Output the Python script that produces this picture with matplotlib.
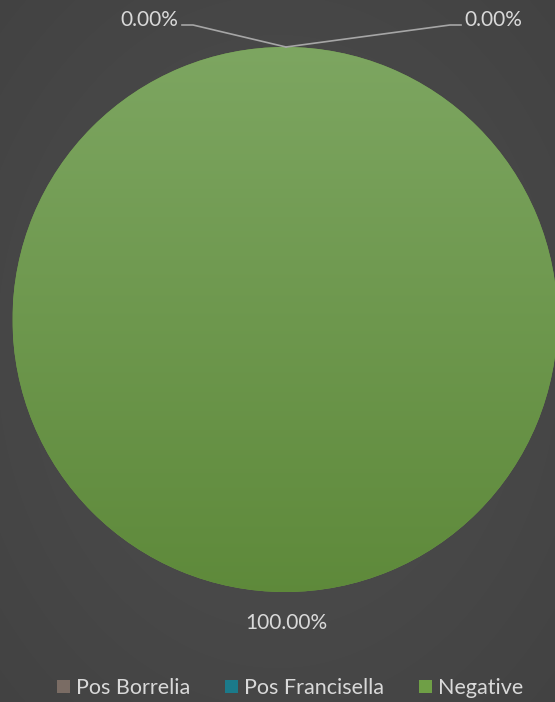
import numpy as np
import matplotlib
matplotlib.use("Agg")
from matplotlib import pyplot as plt
from matplotlib.patches import Patch

categories = ["Pos Borrelia", "Pos Francisella", "Negative"]
values = [0, 0, 100]
colors = ["#7a6c64", "#1b7a8a", "#6f9f46"]

W, H = 555, 702
fig = plt.figure(figsize=(W / 100, H / 100), dpi=100)

# background radial gradient
bg = fig.add_axes([0, 0, 1, 1])
yy, xx = np.mgrid[0:H, 0:W]
d = np.sqrt(((xx - W / 2) / W) ** 2 + ((yy - H / 2) / H) ** 2)
shade = 0.31 - 0.07 * d
bg.imshow(np.dstack([shade] * 3), extent=[0, W, H, 0], aspect="auto")
bg.set_axis_off()

ax = fig.add_axes([0, 0, 1, 1])
cx, cy, r = 285, 319.5, 272.5
total = sum(values)
wedges, _ = ax.pie(values, colors=colors, startangle=90, counterclock=False,
                   radius=r, center=(cx, cy), frame=True,
                   wedgeprops=dict(linewidth=0))
ax.set_xlim(0, W)
ax.set_ylim(H, 0)
ax.set_aspect("auto")
ax.set_axis_off()

# vertical shading on the big wedge
grad = np.linspace(0, 1, 256).reshape(-1, 1)
top = np.array([0.49, 0.65, 0.38])
bot = np.array([0.37, 0.54, 0.23])
img = top + (bot - top) * grad[..., None]
im = ax.imshow(img, extent=[cx - r, cx + r, cy + r, cy - r], aspect="auto", zorder=1)
im.set_clip_path(wedges[2])

txt = "#d9d9d9"
line = "#a6a6a6"
fs = 15
pcts = [v / total * 100 for v in values]
tip = (cx + 1, cy - r)
ax.plot([tip[0], 193, 182], [tip[1], 25, 25], color=line, lw=1.2, zorder=3)
ax.plot([tip[0], 450, 461], [tip[1], 25, 25], color=line, lw=1.2, zorder=3)
ax.text(178, 20, f"{pcts[0]:.2f}%", color=txt, fontsize=fs, family="Lato",
        ha="right", va="center")
ax.text(464, 20, f"{pcts[1]:.2f}%", color=txt, fontsize=fs, family="Lato",
        ha="left", va="center")
ax.text(286, 623, f"{pcts[2]:.2f}%", color=txt, fontsize=fs, family="Lato",
        ha="center", va="center")

handles = [Patch(facecolor=c, edgecolor="none") for c in colors]
leg = fig.legend(handles, categories, loc="center", bbox_to_anchor=(0.523, 1 - 688 / H),
                 ncol=3, frameon=False, handlelength=0.6, handleheight=0.6,
                 handletextpad=0.3, columnspacing=1.6, prop=dict(family="Lato", size=15.5))
for t in leg.get_texts():
    t.set_color(txt)

fig.savefig("out.png", dpi=100)
